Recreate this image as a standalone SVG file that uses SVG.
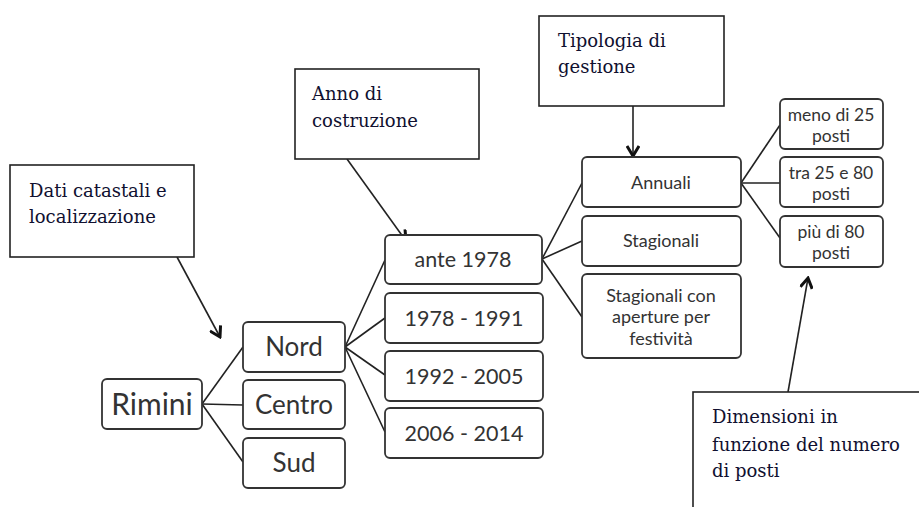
<svg xmlns="http://www.w3.org/2000/svg" width="919" height="507" viewBox="0 0 919 507">
<defs>
<marker id="chev" markerWidth="14" markerHeight="14" refX="12" refY="7" orient="auto" markerUnits="userSpaceOnUse">
<polyline points="2,1 12,7 2,13" fill="none" stroke="#111" stroke-width="3" stroke-linejoin="miter"/>
</marker>
<style>
.call{fill:#fff;stroke:#222;stroke-width:1.6}
.node{fill:#fff;stroke:#333;stroke-width:1.8}
.ser{font-family:"DejaVu Serif","Liberation Serif",serif;font-size:18px;fill:#101030}
.sans{font-family:Lato,"Open Sans",sans-serif;fill:#333;text-anchor:middle}
.ln{stroke:#222;stroke-width:1.6;fill:none}
.ar{stroke:#222;stroke-width:1.6;fill:none;marker-end:url(#chev)}
</style>
</defs>
<rect width="919" height="507" fill="#fff"/>
<g id="connectors">
<line class="ln" x1="202" y1="404" x2="243" y2="347"/>
<line class="ln" x1="202" y1="404" x2="243" y2="405"/>
<line class="ln" x1="202" y1="404" x2="243" y2="462"/>
<line class="ln" x1="345" y1="347" x2="385" y2="260"/>
<line class="ln" x1="345" y1="347" x2="385" y2="318"/>
<line class="ln" x1="345" y1="347" x2="385" y2="375"/>
<line class="ln" x1="345" y1="347" x2="385" y2="432"/>
<line class="ln" x1="542" y1="259" x2="582" y2="183"/>
<line class="ln" x1="542" y1="259" x2="582" y2="241"/>
<line class="ln" x1="542" y1="259" x2="582" y2="317"/>
<line class="ln" x1="741" y1="183" x2="780" y2="125"/>
<line class="ln" x1="741" y1="183" x2="780" y2="183"/>
<line class="ln" x1="741" y1="183" x2="780" y2="238"/>
<line class="ar" x1="177" y1="257" x2="220" y2="337"/>
<line class="ar" x1="347" y1="159" x2="406" y2="241"/>
<line class="ar" x1="633" y1="106" x2="633" y2="156"/>
<line class="ar" x1="788" y1="392" x2="808" y2="278"/>
</g>
<g id="dati">
<rect class="call" x="10" y="165" width="184" height="92"/>
<text class="ser" x="29" y="197">Dati catastali e</text>
<text class="ser" x="29" y="223">localizzazione</text>
</g>
<g id="anno">
<rect class="call" x="295" y="69" width="184" height="90"/>
<text class="ser" x="312" y="100">Anno di</text>
<text class="ser" x="312" y="127">costruzione</text>
</g>
<g id="tipologia">
<rect class="call" x="539" y="16" width="185" height="90"/>
<text class="ser" x="558" y="47">Tipologia di</text>
<text class="ser" x="558" y="73">gestione</text>
</g>
<g id="dimensioni">
<rect class="call" x="693" y="392" width="240" height="130"/>
<text class="ser" x="712" y="423">Dimensioni in</text>
<text class="ser" x="712" y="451">funzione del numero</text>
<text class="ser" x="712" y="477">di posti</text>
</g>
<g id="rimini">
<rect class="node" x="102" y="379" width="100" height="50" rx="5"/>
<text class="sans" x="152" y="415" font-size="30">Rimini</text>
</g>
<g id="nord">
<rect class="node" x="243" y="322" width="102" height="50" rx="5"/>
<text class="sans" x="294" y="356" font-size="26">Nord</text>
</g>
<g id="centro">
<rect class="node" x="243" y="380" width="102" height="49" rx="5"/>
<text class="sans" x="294" y="414" font-size="26">Centro</text>
</g>
<g id="sud">
<rect class="node" x="243" y="438" width="102" height="50" rx="5"/>
<text class="sans" x="294" y="472" font-size="26">Sud</text>
</g>
<g id="ante1978">
<rect class="node" x="385" y="235" width="157" height="49" rx="5"/>
<text class="sans" x="463" y="267" font-size="21.5">ante 1978</text>
</g>
<g id="y1978">
<rect class="node" x="385" y="293" width="158" height="50" rx="5"/>
<text class="sans" x="464" y="326" font-size="21.5">1978 - 1991</text>
</g>
<g id="y1992">
<rect class="node" x="385" y="351" width="158" height="50" rx="5"/>
<text class="sans" x="464" y="384" font-size="21.5">1992 - 2005</text>
</g>
<g id="y2006">
<rect class="node" x="385" y="408" width="158" height="50" rx="5"/>
<text class="sans" x="464" y="441" font-size="21.5">2006 - 2014</text>
</g>
<g id="annuali">
<rect class="node" x="582" y="157" width="159" height="50" rx="5"/>
<text class="sans" x="661" y="189" font-size="18">Annuali</text>
</g>
<g id="stagionali">
<rect class="node" x="582" y="216" width="159" height="50" rx="5"/>
<text class="sans" x="661" y="247" font-size="18">Stagionali</text>
</g>
<g id="stagionalicon">
<rect class="node" x="582" y="274" width="159" height="84" rx="5"/>
<text class="sans" x="661" y="302" font-size="18">Stagionali con</text>
<text class="sans" x="661" y="323" font-size="18">aperture per</text>
<text class="sans" x="661" y="345" font-size="18">festività</text>
</g>
<g id="meno25">
<rect class="node" x="780" y="99" width="103" height="50" rx="5"/>
<text class="sans" x="831" y="121" font-size="17.5">meno di 25</text>
<text class="sans" x="831" y="142" font-size="17.5">posti</text>
</g>
<g id="tra25">
<rect class="node" x="780" y="157" width="103" height="50" rx="5"/>
<text class="sans" x="831" y="179" font-size="17.5">tra 25 e 80</text>
<text class="sans" x="831" y="200" font-size="17.5">posti</text>
</g>
<g id="piu80">
<rect class="node" x="780" y="216" width="103" height="51" rx="5"/>
<text class="sans" x="831" y="238" font-size="17.5">più di 80</text>
<text class="sans" x="831" y="259" font-size="17.5">posti</text>
</g>
</svg>
